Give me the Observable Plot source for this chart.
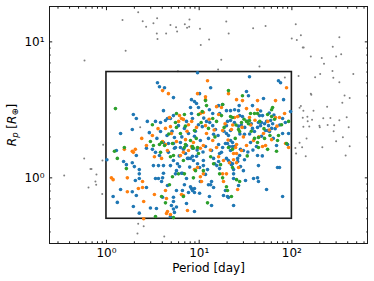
<!DOCTYPE html>
<html>
<head>
<meta charset="utf-8">
<script src="https://cdn.jsdelivr.net/npm/d3@7"></script>
<script src="https://cdn.jsdelivr.net/npm/@observablehq/plot@0.6"></script>
<style>
html, body { margin: 0; padding: 0; background: #ffffff; }
#chart { width: 374px; height: 281px; }
</style>
</head>
<body>
<div id="chart"></div>
<script>
// ---- data (period [day], radius [R_earth]) ----
const grey = [
[2.2,16.5],[1.49,14.5],[3.52,14.9],[2.46,14.2],[3.21,13.7],[2.68,12.9],[4.9,13.3],[5.63,12.8],[7.0,13.5],[3.49,11.5],[4.4,11.5],[5.78,11.9],[3.55,10.5],[1.61,8.6],[0.58,7.3],[2.31,2.36],[5.9,6.07],
[7.86,14.6],[7.4,12.7],[7.8,12.9],[10.2,12.5],[19.6,14.1],[20.8,11.5],[12.8,10.4],[10.4,9.5],[38.2,12.6],[52,13.1],[110,13.5],[125,11.2],[99.6,10.6],[113,10.3],[131,9.1],[134,9.1],[160,7.8],[210,7.6],[222,6.9],[325,10.8],[276,9.2],[300,7.8],[340,8.1],[17.3,7.4],[44.7,6.6],[16.0,6.25],[118,5.6],[178,5.5],[202,5.8],[274,6.1],[280,5.45],[325,5.05],[460,5.8],[160,4.16],[162,4.08],[370,4.03],[420,3.87],[350,3.57],[125,3.38],[121,3.28],[133,3.11],[171,3.11],[240,3.34],[147,2.81],[165,2.68],[148,2.61],[131,2.77],[218,2.74],[260,2.76],[325,2.65],[390,2.79],[133,2.38],[154,2.39],[198,2.42],[200,2.36],[243,2.45],[286,2.44],[410,2.36],[282,2.2],[144,1.95],[355,1.99],[121,1.81],[109,1.66],[129,1.68],[111,1.51],[141,1.44],[213,1.68],[300,1.86],[420,1.71],[380,1.46],
[0.92,1.75],[0.575,1.39],[0.672,1.16],[0.69,1.16],[0.905,1.34],[0.35,1.04],[0.78,1.06],[0.76,0.94],[0.64,0.85],[0.775,0.89],[0.9,0.76],[2.2,0.46],[2.52,0.44],[2.16,0.39],[4.2,0.37],[84,5.48]
];
const blue = [
[3.55,5.0],[3.73,4.68],[4.23,4.6],[5.28,3.89],[9.6,5.93],[13.3,4.6],[34.9,5.54],[71.7,5.18],[75.5,5.01],[10.1,4.16],[32.4,4.31],[34,4.02],[49.4,3.83],[81.3,3.76],[8.26,3.76],[8.9,3.64],[9.36,3.52],[9.83,3.29],[19.7,3.12],[21.8,3.12],[24.1,3.17],[37.6,3.4],[12.9,3.17],[96.8,3.07],[17.9,3.46],[16.2,3.4],[8.06,3.29],[4.12,3.12],[1.95,2.92],[2.1,2.73],[2.76,2.6],[3.38,2.6],[3.83,2.55],[4.33,2.64],[5.28,2.87],[4.9,2.73],[8.26,2.97],[8.47,2.73],[14,2.97],[16.6,2.97],[4.55,2.73],[7.3,2.6],[26.6,3.12],[27.3,2.87],[29.3,2.82],[44.7,2.87],[48.2,2.87],[79.4,2.73],
[1.9,2.27],[1.42,2.12],[3.83,2.19],[20.2,2.6],[21.8,2.64],[19.7,2.42],[43.6,2.55],[47,2.55],[45.9,2.42],[50.7,2.5],[53.3,2.6],[58.9,2.64],[56,2.42],[21.8,2.23],[19.7,2.12],[20.7,2.05],[37.6,2.31],[39.5,2.19],[42.6,2.35],[52,2.23],[57.4,2.19],[60.4,2.31],[79.4,2.12],[92.1,2.12],[30.8,2.09],[47,2.02],[54.7,2.23],[9.83,2.46],[10.8,2.38],[12,2.6],[14,2.42],[15,2.27],[5.98,2.42],[6.93,2.31],[7.67,2.12],[8.9,2.02],[10.3,1.88],[12.6,1.95],[14.3,2.09],[5.41,1.98],[6.28,1.82],[7.3,1.73],[8.47,1.65],[2.7,1.65],[3.13,1.62],[3.38,1.54],[3.73,1.46],[2.1,1.46],[1.28,1.59],[5.41,1.65],[4.66,1.54],[11.7,1.7],[13.6,1.59],[16.2,1.76],[17.4,1.54],[21.8,1.88],[24.1,1.7],[27.9,1.62],[35.8,1.82],[41.5,1.7],
[1.01,1.36],[1.53,1.32],[1.64,1.25],[1.9,1.29],[2.0,1.21],[2.26,1.15],[3.21,1.23],[3.64,1.23],[4.12,1.23],[2.05,0.955],[2.26,0.99],[3.38,0.99],[3.64,0.99],[3.93,0.94],[1.42,0.82],[1.9,0.79],[2.1,0.742],[2.7,0.85],[1.18,0.73],[1.31,0.66],[1.95,0.615],[2.98,0.6],[3.46,0.595],[4.03,0.72],[5.28,0.72],[5.69,0.807],[6.6,1.08],[7.3,0.99],[8.06,0.86],[8.9,0.78],[10.3,0.94],[11.7,1.06],[13.3,0.89],[14.7,1.27],[16.6,1.17],[19.7,1.39],[22.3,1.25],[26,1.39],[23.5,0.99],[30,1.13],[43.6,0.94],[53.3,0.82],[70,1.19],[73.5,1.19],[13.6,0.626],[20.2,0.73],[23.5,0.626],[5.41,0.557],[8.9,0.566],[7.3,0.648],[4.9,1.23],[5.69,1.13],[11.1,1.34],[9.36,1.44],[7.67,1.39],[30,1.59],[79.4,0.73],[38.6,0.99],
[20.2,1.79],[22.9,1.82],[21.2,1.7],[22.9,1.7],[21.8,1.29],[22.9,1.27],[26,1.32],[27.9,1.21],[23.5,1.15],[23.5,1.07],[27.3,1.46],[30.8,1.36],[42.6,1.46],[43.6,1.23],[31.6,0.955],[42.6,1.0],[26.6,0.878],[20.7,0.718],[68.3,1.73],[89.9,1.76],
[4.12,1.82],[4.66,1.79],[5.28,1.79],[5.55,1.67],[6.28,1.67],[6.76,1.62],[7.12,1.51],[7.48,1.39],[8.06,1.39],[8.47,1.44],[8.67,1.34],[9.6,1.27],[10.1,1.19],[11.1,1.23],[5.28,1.34],[5.83,1.27],[6.13,1.21],[6.44,1.08],[5.55,1.07],[4.12,1.08],[4.03,1.0],[4.55,0.878],[6.93,0.89],[8.26,0.835],[8.9,0.835],[7.67,0.78],[8.47,0.807],[13.6,0.94],[12.6,0.89],[14.3,0.85],[12.9,0.73],[5.28,0.67],[5.02,0.626],[10.1,0.77],[19.2,0.807],[18.3,0.742],[19.2,1.79],[17.9,1.67],[16.6,1.51],[14.3,1.39],[16.2,1.32],[20.7,1.34],[21.8,1.59],
[2.26,1.07],[2.26,0.55],[6.6,0.807],[5.69,0.61],[5.28,0.59],[4.9,0.52],
[28.5,2.45],[33,2.6],[36.5,2.5],[31,2.35],[62,2.5],[66,2.3],[74,2.45],[85,2.55],[64,2.9],[57,3.0],[24,2.55],[26.5,2.4],[11.2,2.75],[13,2.55],[9.1,2.2],[6.5,2.0],[5.1,2.2],[4.5,2.05],[3.5,1.95],[2.9,2.15],[18.5,2.2],[16,2.05],[11,1.55],[9.5,1.6],[33.5,1.55],[38,1.6],[48,1.45],[63,1.95],[46,3.1],[27,3.4],[15.5,1.23],[12.3,1.15],[7.9,1.2],[6.1,1.45],[35,2.1],[27.5,2.1]
];
const orange = [
[4.03,4.38],[4.66,4.16],[12.3,5.18],[11.7,3.95],[87.6,4.6],[9.6,4.16],[20.7,4.16],[25.3,3.76],[29.3,3.7],[42.6,3.7],[66.6,3.7],[11.7,3.76],[17.4,3.29],[32.4,3.23],[42.6,3.17],[83.4,2.97],[15.4,3.34],[4.78,2.78],[6.13,2.87],[6.44,2.73],[10.3,2.97],[11.1,3.02],[16.2,2.92],[6.76,2.69],[3.13,2.05],[4.33,2.31],[4.9,2.38],[4.03,1.85],[4.33,1.76],[24.1,2.78],[26,2.82],[34.9,2.78],[66.6,2.78],[73.5,2.78],[1.56,1.62],[1.9,1.57],[2.05,1.62],[1.95,1.54],[2.7,1.73],[3.29,1.43],[1.13,1.0],[1.18,0.97],[1.68,1.0],[2.45,0.94],[1.68,0.79],[2.45,0.85],[2.21,0.835],[3.29,0.755],[2.52,0.67],[2.52,0.5],[4.44,0.547],[4.9,0.538],[22.3,2.27],[19.7,1.07],[25.3,1.29],[26.6,1.19],[28.6,1.59],[32.4,1.73],[49.4,2.12],[38.6,1.88],[60.4,1.91],[52,1.73],[85.5,1.79],[8.26,1.7],[7.12,1.91],[5.69,1.85],[5.02,2.12],[12,2.12],[14,1.88],[15.4,1.67],[17.9,2.23],[9.36,2.35],[7.67,2.46],[11.7,2.42],[4.55,1.59],[3.93,1.39],[6.28,1.46],[6.76,1.54],[7.67,1.59],[10.3,1.65],[11.1,1.73],[8.67,1.82],[8.9,1.15],[9.6,1.19],[10.3,1.02],[11.1,1.07],[16.2,1.43],[18.3,1.34],[21.2,1.29],[17.9,1.07],[18.3,0.94],[10.6,0.94],[4.33,0.807],[6.44,0.755],[6.76,0.742],[4.44,0.705],[4.55,0.566],[7.48,0.576],[25.3,1.76],[24.7,1.67],[23.5,1.51],[25.3,1.51],[23.5,1.36],[48.2,1.7],[26,0.82],[92.1,1.67],
[19,2.5],[23,2.45],[36,2.45],[40,2.65],[55,2.6],[69,2.4],[14.5,2.25],[8.3,2.6],[6,2.6],[12.8,2.7],[30,2.0],[44,2.0],[3.6,2.3],[2.4,1.95],[7.4,2.2],[29,2.35],[57,2.25],[20.5,1.9],[13.2,1.6]
];
const green = [
[1.25,3.23],[3.13,2.46],[5.69,2.35],[2.98,1.85],[3.73,1.76],[11.7,3.7],[12,3.4],[5.69,2.97],[6.93,2.92],[10.8,3.07],[17.4,2.87],[5.55,2.55],[20.7,4.38],[17.9,3.46],[61.9,3.29],[60.4,3.17],[9.83,2.92],[29.3,4.02],[21.8,2.82],[22.9,2.78],[35.8,2.97],[39.5,2.97],[42.6,2.97],[54.7,2.92],[60.4,2.82],[92.1,2.6],[28.6,2.55],[32.4,2.6],[34.9,2.64],[34,2.5],[77.4,2.46],[26.6,2.27],[27.3,2.19],[71.7,2.05],[70,1.88],[1.22,1.57],[1.56,1.67],[1.31,1.39],[1.64,1.17],[3.21,1.73],[3.83,1.54],[4.33,0.655],[3.38,0.52],[3.93,1.82],[4.23,1.73],[5.15,1.79],[7.12,1.76],[6.93,1.67],[8.47,1.7],[8.67,1.65],[9.6,1.67],[9.83,1.51],[4.9,1.43],[5.28,1.46],[6.76,1.34],[5.98,1.07],[5.15,1.02],[6.93,1.07],[9.13,1.13],[8.67,1.0],[11.1,1.13],[13.3,1.43],[14.3,1.27],[17,1.25],[16.6,1.07],[17.9,1.0],[4.78,0.89],[3.93,0.73],[12.3,0.655],[20.2,0.807],[5.28,0.51],[20.7,1.67],[22.9,1.62],[22.9,1.19],[25.3,0.97],[27.3,0.94],[22.3,0.73],[19.7,0.86],[43.6,1.67],[54.7,1.62],[68.3,1.57],[87.6,1.79],[50.7,1.95],[39.5,1.95],[43.6,1.98],[42.6,1.82],[12.6,2.31],[15.4,2.6],[8.06,1.88],[6.28,2.12],[8.9,2.23],[14,2.73],[6.76,0.73],
[25,2.45],[30.5,2.7],[45,2.6],[50,2.3],[65,2.7],[18.6,2.35],[10.5,2.55],[7.1,2.4],[4.7,2.1],[36.5,2.2],[24.5,1.95],[14.8,2.0],[9.3,1.95],[58,2.05],[33,1.45]
];
const boxPeriod = [1, 100];
const boxRadius = [0.5, 6];
const xMajorTicks = [1, 10, 100];
const xMinorTicks = [0.3,0.4,0.5,0.6,0.7,0.8,0.9,2,3,4,5,6,7,8,9,20,30,40,50,60,70,80,90,200,300,400,500,600];
const yMajorTicks = [1, 10];
const yMinorTicks = [0.4,0.5,0.6,0.7,0.8,0.9,2,3,4,5,6,7,8,9];
const xLabel = "Period [day]";
const yLabel = "Rp [R⊕]";

// ---- rendering ----
const sup = {"0":"⁰","1":"¹","2":"²","3":"³","-":"⁻"};
const fmtPow = v => "10" + String(Math.round(Math.log10(v))).split("").map(c => sup[c]).join("");
const rows = arr => arr.map(([period, radius]) => ({period, radius}));
const ink = "#1a1a1a";
const FONT = "'DejaVu Sans', sans-serif";

const tickAxes = [];
for (const [ticks, size] of [[xMajorTicks, 3.2], [xMinorTicks, 1.7]]) {
  tickAxes.push(Plot.axisX(ticks, {anchor: "bottom", tickSize: size, insetBottom: size, fill: "none", stroke: ink, label: null}));
  tickAxes.push(Plot.axisX(ticks, {anchor: "top", tickSize: size, insetTop: size, fill: "none", stroke: ink, label: null}));
}
for (const [ticks, size] of [[yMajorTicks, 3.2], [yMinorTicks, 1.7]]) {
  tickAxes.push(Plot.axisY(ticks, {anchor: "left", tickSize: size, insetLeft: size, fill: "none", stroke: ink, label: null}));
  tickAxes.push(Plot.axisY(ticks, {anchor: "right", tickSize: size, insetRight: size, fill: "none", stroke: ink, label: null}));
}

const chart = Plot.plot({
  width: 374,
  height: 281,
  marginLeft: 49,
  marginRight: 7,
  marginTop: 6,
  marginBottom: 38,
  style: {fontFamily: FONT, fontSize: "12px", background: "#ffffff", color: "#000000"},
  x: {type: "log", domain: [0.243, 654]},
  y: {type: "log", domain: [0.329, 18.2]},
  marks: [
    Plot.dot(rows(grey), {x: "period", y: "radius", r: 1, fill: "#808080"}),
    Plot.rect([{p1: boxPeriod[0], p2: boxPeriod[1], r1: boxRadius[0], r2: boxRadius[1]}],
      {x1: "p1", x2: "p2", y1: "r1", y2: "r2", fill: "none", stroke: ink, strokeWidth: 1.6}),
    Plot.dot(rows(blue), {x: "period", y: "radius", r: 1.8, fill: "#1f77b4"}),
    Plot.dot(rows(orange), {x: "period", y: "radius", r: 1.8, fill: "#ff7f0e"}),
    Plot.dot(rows(green), {x: "period", y: "radius", r: 1.8, fill: "#2ca02c"}),
    Plot.frame({stroke: ink, strokeWidth: 1}),
    ...tickAxes,
    Plot.axisX(xMajorTicks, {anchor: "bottom", tickSize: 0, tickPadding: 5, tickFormat: fmtPow, label: null, fontSize: 12, fill: "#000"}),
    Plot.axisY(yMajorTicks, {anchor: "left", tickSize: 0, tickPadding: 5, tickFormat: fmtPow, label: null, fontSize: 12, fill: "#000"}),
    Plot.text([xLabel], {frameAnchor: "bottom", dy: 28.5, lineAnchor: "bottom", textAnchor: "middle", fontSize: 12, fill: "#000"}),
    Plot.text([yLabel], {frameAnchor: "left", dx: -34, rotate: -90, lineAnchor: "bottom", textAnchor: "middle", fontSize: 12, fill: "#000"})
  ]
});
document.getElementById("chart").appendChild(chart);

// mathtext-like styling of the y label: italic R with subscripts
d3.select(chart).selectAll("text").filter(function () { return this.textContent === yLabel; }).each(function () {
  const t = d3.select(this);
  t.text(null);
  t.append("tspan").attr("font-style", "italic").text("R");
  t.append("tspan").attr("font-style", "italic").attr("font-size", 8.5).attr("dy", 2.6).text("p");
  t.append("tspan").attr("dy", -2.6).text(" [");
  t.append("tspan").attr("font-style", "italic").text("R");
  t.append("tspan").attr("font-size", 8.5).attr("dy", 2.6).text("⊕");
  t.append("tspan").attr("dy", -2.6).text("]");
});
</script>
</body>
</html>
